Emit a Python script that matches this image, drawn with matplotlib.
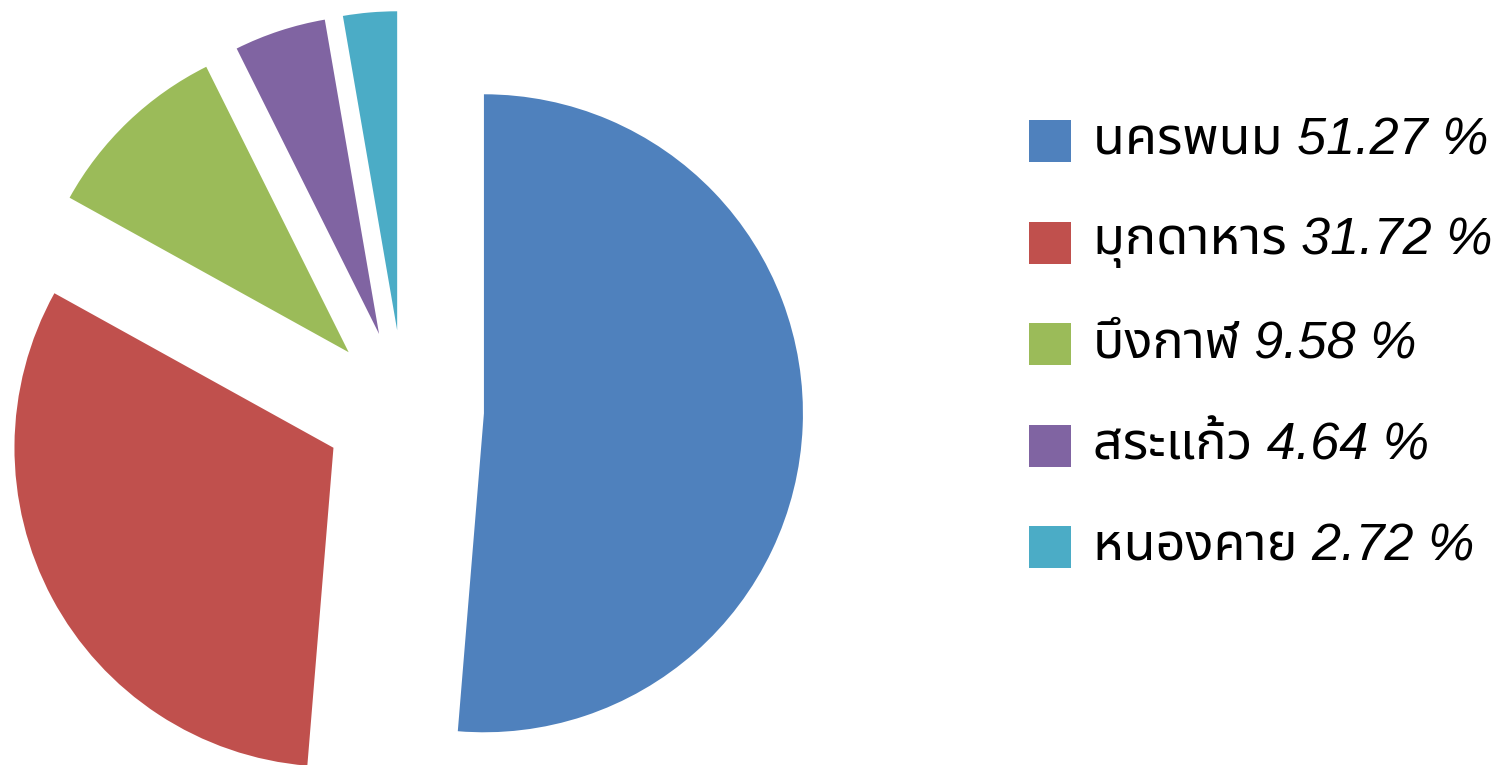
import matplotlib
matplotlib.use("Agg")
import matplotlib.pyplot as plt
from matplotlib import font_manager
from matplotlib.ft2font import FT2Font
from matplotlib.patches import Rectangle

# ---- data ----
provinces = ["นครพนม", "มุกดาหาร", "บึงกาฬ", "สระแก้ว", "หนองคาย"]
shares = [51.27, 31.72, 9.58, 4.64, 2.72]
colors = ["#4F81BD", "#C0504D", "#9BBB59", "#8064A2", "#4BACC6"]

# ---- find a font with Thai glyphs ----
def find_thai_fonts():
    found = []
    seen = set()
    for f in font_manager.fontManager.ttflist:
        if f.name in seen:
            continue
        try:
            cmap = FT2Font(f.fname).get_charmap()
        except Exception:
            continue
        if 0x0E19 in cmap and 0x0E04 in cmap:
            found.append(f.name)
            seen.add(f.name)
    return found

thai = find_thai_fonts()
pref = ["Tahoma", "Noto Sans Thai", "Noto Sans Thai UI", "Loma", "Garuda", "Norasi"]
thai_sorted = sorted(thai, key=lambda n: pref.index(n) if n in pref else 99)
families = ["Liberation Sans"] + thai_sorted[:1] + ["DejaVu Sans"]
plt.rcParams['font.family'] = families

W, H = 1509, 765
fig = plt.figure(figsize=(W / 100, H / 100), dpi=100)
ax = fig.add_axes([0, 0, 1, 1])

cx, cy, R = 404, H - 410, 319
ax.pie(shares, colors=colors, startangle=90, counterclock=False,
       center=(cx, cy), radius=R, explode=[80] * len(shares),
       wedgeprops=dict(linewidth=0))
ax.set_xlim(0, W)
ax.set_ylim(0, H)
ax.set_aspect('auto')
ax.axis('off')

# ---- legend ----
y0, dy = 141, 101.5
for i, (p, s, c) in enumerate(zip(provinces, shares, colors)):
    yc = H - (y0 + i * dy)
    ax.add_patch(Rectangle((1029, yc - 21), 42, 42, facecolor=c, edgecolor='none'))
    ax.text(1093, yc, f"{p} {s:.2f} %", fontsize=37.5, style='italic',
            va='center', ha='left', color='black')

fig.savefig("out.png", dpi=100)
